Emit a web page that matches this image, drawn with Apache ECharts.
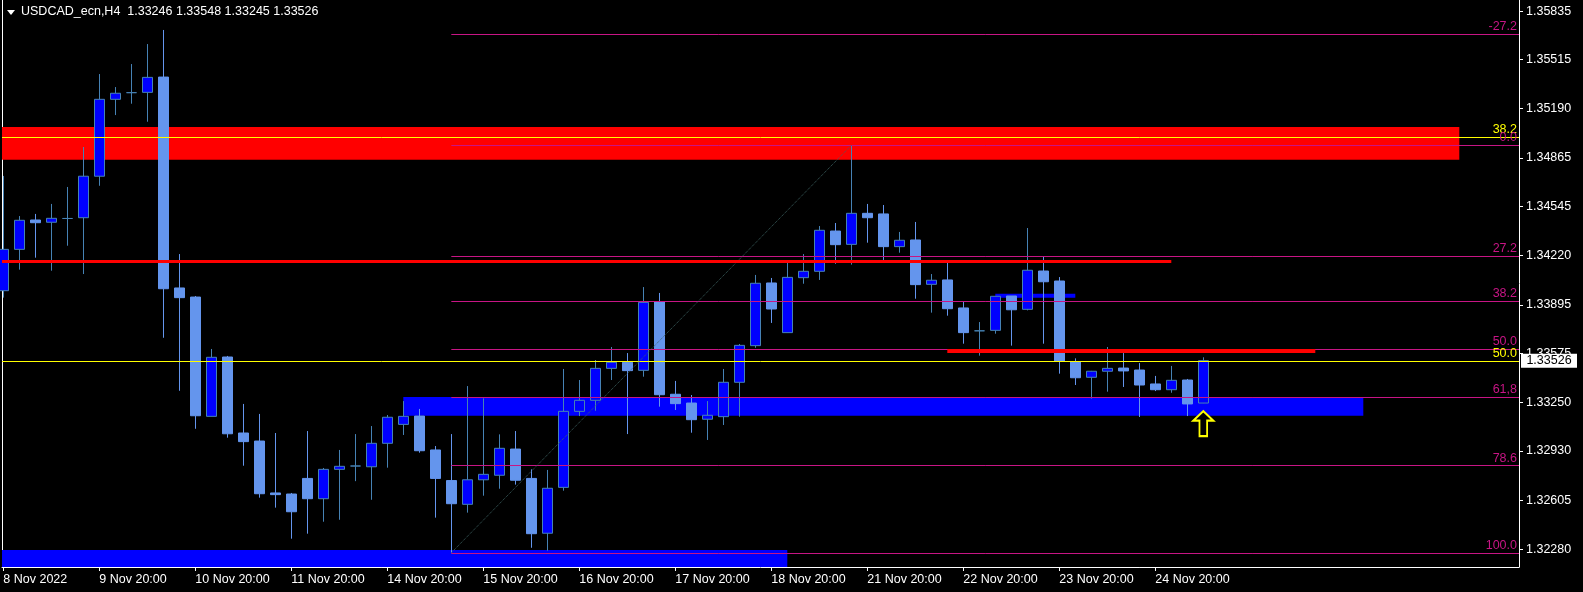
<!DOCTYPE html>
<html><head><meta charset="utf-8">
<script src="https://cdn.jsdelivr.net/npm/echarts@6/dist/echarts.min.js"></script>
<style>html,body{margin:0;padding:0;background:#000;overflow:hidden}#c{width:1583px;height:592px;}</style>
</head><body><div id="c"></div>
<script>
// ---- data (prices) ----
// [open, close, low, high] per H4 bar, bar index = position
const candles = [
 [1.33988,1.34261,1.33942,1.34746],[1.34261,1.34453,1.34127,1.34481],[1.34455,1.34437,1.34206,1.34495],
 [1.34440,1.34466,1.34120,1.34561],[1.34465,1.34465,1.34285,1.34673],[1.34470,1.34744,1.34098,1.34937],
 [1.34744,1.35252,1.34681,1.35419],[1.35252,1.35292,1.35148,1.35333],[1.35296,1.35296,1.35223,1.35485],
 [1.35298,1.35397,1.35104,1.35617],[1.35399,1.34001,1.33677,1.35710],[1.34006,1.33942,1.33327,1.34230],
 [1.33946,1.33162,1.33076,1.33953],[1.33158,1.33548,1.33158,1.33603],[1.33550,1.33043,1.33017,1.33557],
 [1.33048,1.32991,1.32832,1.33240],[1.32995,1.32647,1.32621,1.33174],[1.32652,1.32641,1.32555,1.33048],
 [1.32645,1.32528,1.32350,1.32652],[1.32748,1.32614,1.32383,1.33061],[1.32614,1.32808,1.32462,1.32817],
 [1.32808,1.32828,1.32475,1.32936],[1.32830,1.32830,1.32730,1.33041],[1.32825,1.32980,1.32607,1.33094],
 [1.32980,1.33152,1.32819,1.33167],[1.33105,1.33158,1.33035,1.33259],[1.33160,1.32931,1.32918,1.33207],
 [1.32936,1.32748,1.32489,1.32962],[1.32734,1.32581,1.32257,1.33041],[1.32577,1.32739,1.32522,1.33358],
 [1.32739,1.32775,1.32634,1.33277],[1.32769,1.32947,1.32680,1.33039],[1.32942,1.32736,1.32707,1.33061],
 [1.32748,1.32383,1.32290,1.32808],[1.32386,1.32683,1.32271,1.32804],[1.32689,1.33191,1.32667,1.33471],
 [1.33191,1.33264,1.33160,1.33398],[1.33264,1.33475,1.33195,1.33530],[1.33475,1.33515,1.33398,1.33616],
 [1.33515,1.33460,1.33041,1.33576],[1.33462,1.33911,1.33420,1.34012],[1.33915,1.33301,1.33222,1.33973],
 [1.33304,1.33242,1.33200,1.33392],[1.33246,1.33136,1.33050,1.33299],[1.33139,1.33165,1.33002,1.33259],
 [1.33156,1.33383,1.33101,1.33471],[1.33383,1.33627,1.33156,1.33636],[1.33625,1.34037,1.33611,1.34092],
 [1.34039,1.33867,1.33775,1.34072],[1.33711,1.34076,1.33711,1.34171],[1.34074,1.34116,1.34034,1.34230],
 [1.34116,1.34387,1.34059,1.34415],[1.34382,1.34292,1.34166,1.34435],[1.34294,1.34499,1.34160,1.34948],
 [1.34499,1.34470,1.34305,1.34561],[1.34495,1.34279,1.34191,1.34554],[1.34279,1.34321,1.34239,1.34376],
 [1.34323,1.34028,1.33935,1.34442],[1.34030,1.34057,1.33843,1.34098],[1.34059,1.33869,1.33823,1.34171],
 [1.33874,1.33711,1.33638,1.33913],[1.33723,1.33723,1.33559,1.33781],[1.33726,1.33951,1.33704,1.33951],
 [1.33953,1.33862,1.33625,1.33953],[1.33865,1.34123,1.33858,1.34402],[1.34118,1.34047,1.33638,1.34213],
 [1.34052,1.33524,1.33440,1.34078],[1.33519,1.33413,1.33365,1.33541],[1.33416,1.33456,1.33275,1.33458],
 [1.33456,1.33475,1.33321,1.33616],[1.33477,1.33458,1.33352,1.33576],[1.33464,1.33365,1.33154,1.33510],
 [1.33372,1.33334,1.33325,1.33425],[1.33334,1.33396,1.33314,1.33491],[1.33398,1.33240,1.33160,1.33405],
 [1.33246,1.33526,1.33245,1.33548]
];
const xLabelIdx = [0,6,12,18,24,30,36,42,48,54,60,66,72];
const xLabels = ['8 Nov 2022','9 Nov 20:00','10 Nov 20:00','11 Nov 20:00','14 Nov 20:00','15 Nov 20:00',
  '16 Nov 20:00','17 Nov 20:00','18 Nov 20:00','21 Nov 20:00','22 Nov 20:00','23 Nov 20:00','24 Nov 20:00'];
const yTicks = [1.35835,1.35515,1.35190,1.34865,1.34545,1.34220,1.33895,1.33575,1.33250,1.32930,1.32605,1.32280];
const headerText = 'USDCAD_ecn,H4  1.33246 1.33548 1.33245 1.33526';
const lastPrice = 1.33526;
// fibonacci (magenta) levels, drawn from bar 28 to the right edge
const fibStart = 28;
const fibLabels = ['-27.2','0.0','27.2','38.2','50.0','61,8','78.6','100.0'];
const fibPrices = [1.35680,1.34948,1.34216,1.33920,1.33603,1.33285,1.32833,1.32257];
// yellow levels across the whole chart
const yellowLabels = ['38.2','50.0'];
const yellowPrices = [1.35001,1.33523];
// fib trend line anchors [bar, price]
const trendFrom = [28,1.32257], trendTo = [53,1.34948];
// zones: [barFrom, barTo, priceTop, priceBottom] (null = chart edge)
const redZone = [null,91,1.35069,1.34853];
const blueZone = [25,85,1.33286,1.33162];
const blueZoneLow = [null,49,1.32275,null];
const blueBar = [62,67,1.33968,1.33942];
// red horizontal lines: [barFrom, barTo, price]
const redLine1 = [null,73,1.34184];
const redLine2 = [59,82,1.33592];
const arrowAt = [75,1.33110];

// ---- chart ----
const xMin = -0.08125, xMax = 94.73125;
const yMin = 1.32163, yMax = 1.35908;
const FONT = 'Liberation Sans';
const FS = 12.5;
const ex = v => v === null ? xMin : v;
const ey = v => v === null ? yMin : v;

const chart = echarts.init(document.getElementById('c'), null, {renderer:'canvas'});

const zoneItem = (z, color) => [
  {coord:[ex(z[0]), z[2]], itemStyle:{color:color, opacity:1}},
  {coord:[ex(z[1]), ey(z[3])]}
];
const noLabel = {show:false};
const levelLines = [];
yellowPrices.forEach((p,i)=>levelLines.push([
  {coord:[xMin,p], lineStyle:{color:'#FFFF00', width:1, type:'solid'},
   label:{show:true, position:'insideEndTop', formatter:yellowLabels[i], color:'#FFFF00', fontSize:FS, fontFamily:FONT, distance:[2,1]}},
  {coord:[xMax,p]}
]));
fibPrices.forEach((p,i)=>levelLines.push([
  {coord:[fibStart,p], lineStyle:{color:'#C71585', width:1, type:'solid'},
   label:{show:true, position:'insideEndTop', formatter:fibLabels[i], color:'#C71585', fontSize:FS, fontFamily:FONT, distance:[2,1]}},
  {coord:[xMax,p]}
]));
levelLines.push([{coord:trendFrom, lineStyle:{color:'#3E6464', width:1, type:'dotted'}, label:noLabel},{coord:trendTo}]);
[[redLine1,3],[redLine2,4]].forEach(([l,w])=>levelLines.push([
  {coord:[ex(l[0]),l[2]], lineStyle:{color:'#FF0000', width:w, type:'solid'}, label:noLabel},
  {coord:[ex(l[1]),l[2]]}
]));

chart.setOption({
  animation:false,
  backgroundColor:'#000',
  grid:{left:2, right:64, top:0, bottom:25, containLabel:false},
  xAxis:{type:'value', min:xMin, max:xMax,
    axisLine:{show:true, onZero:false, lineStyle:{color:'#fff', width:1}},
    axisTick:{show:true, customValues:xLabelIdx, length:4, lineStyle:{color:'#fff'}},
    axisLabel:{show:true, customValues:xLabelIdx, formatter:v=>xLabels[xLabelIdx.indexOf(Math.round(v))],
      color:'#fff', align:'left', margin:6, fontSize:FS, fontFamily:FONT},
    splitLine:{show:false}},
  yAxis:[
    {type:'value', position:'right', min:yMin, max:yMax, scale:true,
     axisLine:{show:true, onZero:false, lineStyle:{color:'#fff', width:1}},
     axisTick:{show:true, customValues:yTicks, length:4, lineStyle:{color:'#fff'}},
     axisLabel:{show:true, customValues:yTicks, formatter:v=>v.toFixed(5), color:'#fff', margin:7, fontSize:FS, fontFamily:FONT},
     splitLine:{show:false}},
    {type:'value', position:'left', min:yMin, max:yMax, scale:true,
     axisLine:{show:true, onZero:false, lineStyle:{color:'#fff', width:1}},
     axisTick:{show:false}, axisLabel:{show:false}, splitLine:{show:false}}
  ],
  graphic:[
    {type:'polygon', shape:{points:[[7,10],[15,10],[11,15]]}, style:{fill:'#fff'}},
    {type:'text', left:21, top:5, style:{text:headerText, fill:'#fff', font:FS+'px "'+FONT+'"'}}
  ],
  series:[
    {name:'zones', type:'line', data:[], z:1, silent:true,
     markArea:{silent:true, label:{show:false}, data:[
       zoneItem(redZone,'#FF0000'), zoneItem(blueZone,'#0000FF'),
       zoneItem(blueZoneLow,'#0000FF'), zoneItem(blueBar,'#0000FF')]}},
    {name:'USDCAD', type:'candlestick', z:2, silent:true, clip:true,
     data:candles.map((d,i)=>[i,d[0],d[1],d[2],d[3]]),
     encode:{x:0, y:[1,2,3,4]},
     barWidth:10,
     itemStyle:{color:'#0000FF', color0:'#6495ED', borderColor:'#4682B4', borderColor0:'#6495ED',
       borderColorDoji:'#4682B4', borderWidth:1}},
    {name:'levels', type:'line', data:[], z:5, silent:true,
     markLine:{silent:true, symbol:['none','none'], animation:false, data:levelLines},
     markPoint:{silent:true, data:[
       {coord:arrowAt, symbol:'path://M10.5,0 L21,10 L14.5,10 L14.5,26 L6.5,26 L6.5,10 L0,10 Z',
        symbolSize:[20,25], itemStyle:{color:'#000', borderColor:'#FFFF00', borderWidth:2}, label:{show:false}},
       {coord:[xMax,lastPrice], symbol:'rect', symbolSize:[56,14], symbolOffset:[30,0],
        itemStyle:{color:'#fff'},
        label:{show:true, position:'inside', formatter:lastPrice.toFixed(5), color:'#000', fontSize:FS, fontFamily:FONT}}
     ]}}
  ]
});
</script></body></html>
